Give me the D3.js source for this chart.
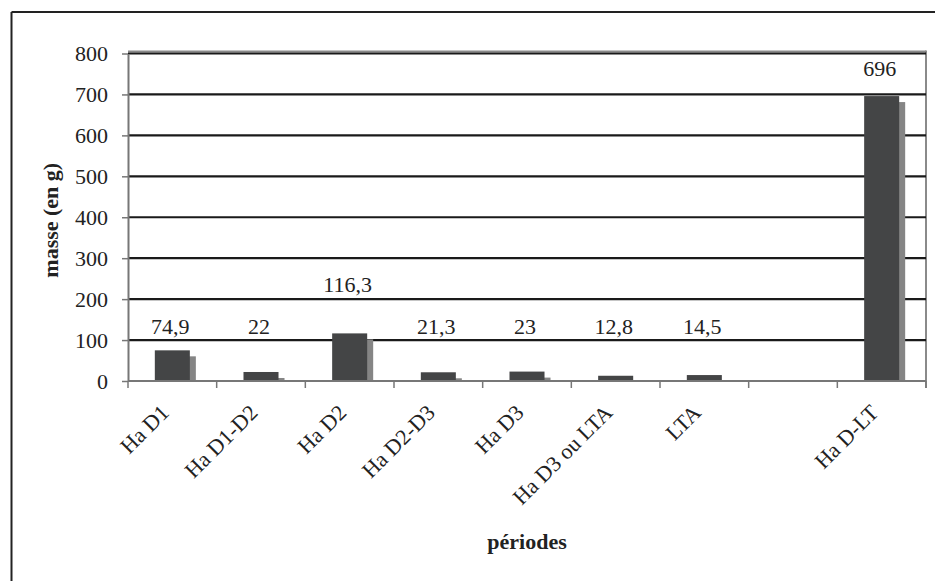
<!DOCTYPE html>
<html>
<head>
<meta charset="utf-8">
<script src="https://cdn.jsdelivr.net/npm/d3@7"></script>
<style>
  html, body { margin: 0; padding: 0; background: #fff; }
  svg { display: block; }
  text { font-family: "Liberation Serif", "Times New Roman", serif; fill: #222; }
</style>
</head>
<body>
<script>
const categories = ["Ha D1", "Ha D1-D2", "Ha D2", "Ha D2-D3", "Ha D3", "Ha D3 ou LTA", "LTA", "", "Ha D-LT"];
const masses = [74.9, 22, 116.3, 21.3, 23, 12.8, 14.5, null, 696];
const valueLabels = ["74,9", "22", "116,3", "21,3", "23", "12,8", "14,5", "", "696"];
const yTicks = [0, 100, 200, 300, 400, 500, 600, 700, 800];
const yTitle = "masse (en g)";
const xTitle = "périodes";

const W = 935, H = 581;
const plot = { left: 128, right: 926, top: 53.5, bottom: 381 };

const svg = d3.select("body").append("svg").attr("width", W).attr("height", H);

// outer frame (top and left edges visible)
svg.append("line").attr("x1", 11.5).attr("x2", W).attr("y1", 12).attr("y2", 12)
  .attr("stroke", "#222").attr("stroke-width", 2);
svg.append("line").attr("x1", 11.5).attr("x2", 11.5).attr("y1", 12).attr("y2", H)
  .attr("stroke", "#222").attr("stroke-width", 2);

const x = d3.scaleBand().domain(categories).range([plot.left, plot.right]).paddingInner(0).paddingOuter(0);
const y = d3.scaleLinear().domain([0, 800]).range([plot.bottom, plot.top]);

// plot-area border (top & right, grey)
svg.append("line").attr("x1", plot.left).attr("x2", plot.right).attr("y1", plot.top - 2).attr("y2", plot.top - 2)
  .attr("stroke", "#8a8a8a").attr("stroke-width", 2);
svg.append("line").attr("x1", plot.right).attr("x2", plot.right).attr("y1", plot.top - 3).attr("y2", plot.bottom + 7)
  .attr("stroke", "#8a8a8a").attr("stroke-width", 2);

// gridlines
svg.append("g").selectAll("line").data(yTicks.filter(d => d > 0)).join("line")
  .attr("x1", plot.left).attr("x2", plot.right)
  .attr("y1", d => y(d)).attr("y2", d => y(d))
  .attr("stroke", "#1a1a1a").attr("stroke-width", 2.2);

// y axis
const yAxis = svg.append("g").attr("transform", `translate(${plot.left},0)`)
  .call(d3.axisLeft(y).tickValues(yTicks).tickSize(6).tickSizeOuter(0).tickPadding(14));
yAxis.select(".domain").attr("stroke", "#777").attr("stroke-width", 2);
yAxis.selectAll(".tick line").attr("stroke", "#777").attr("stroke-width", 1.5);
yAxis.selectAll(".tick text").style("font-size", "22px").style("font-family", "Liberation Serif").attr("fill", "#222");

// bars: shadow then main
const bw = x.bandwidth() * 0.395;
const off = 6;
const barData = categories.map((c, i) => ({ c, v: masses[i], label: valueLabels[i] })).filter(d => d.v != null);

svg.append("g").selectAll("rect").data(barData).join("rect")
  .attr("x", d => x(d.c) + (x.bandwidth() - bw) / 2 + off)
  .attr("width", bw)
  .attr("y", d => Math.min(y(d.v) + off, plot.bottom))
  .attr("height", d => Math.max(0, plot.bottom - (y(d.v) + off)))
  .attr("fill", "#858585");

svg.append("g").selectAll("rect").data(barData).join("rect")
  .attr("x", d => x(d.c) + (x.bandwidth() - bw) / 2)
  .attr("width", bw)
  .attr("y", d => y(d.v))
  .attr("height", d => plot.bottom - y(d.v))
  .attr("fill", "#444546");

// x axis line and boundary ticks
svg.append("line").attr("x1", plot.left).attr("x2", plot.right).attr("y1", plot.bottom).attr("y2", plot.bottom)
  .attr("stroke", "#777").attr("stroke-width", 2);
const bounds = categories.map(c => x(c)).concat([plot.right]);
svg.append("g").selectAll("line").data(bounds).join("line")
  .attr("x1", d => d).attr("x2", d => d)
  .attr("y1", plot.bottom).attr("y2", plot.bottom + 7)
  .attr("stroke", "#777").attr("stroke-width", 1.5);

// category labels rotated
svg.append("g").selectAll("text").data(categories).join("text")
  .attr("transform", c => `translate(${x(c) + x.bandwidth() / 2 - 2},${plot.bottom + 33}) rotate(-45)`)
  .attr("text-anchor", "end")
  .style("font-size", "22px")
  .text(c => c);

// value labels
function labelLevel(v) {
  if (v < 100) return 115;
  if (v < 200) return v + 100;
  return v + 50;
}
svg.append("g").selectAll("text").data(barData).join("text")
  .attr("x", d => x(d.c) + x.bandwidth() / 2 - 2)
  .attr("y", d => y(labelLevel(d.v)))
  .attr("text-anchor", "middle")
  .style("font-size", "22px")
  .text(d => d.label);

// axis titles
svg.append("text")
  .attr("transform", `translate(58,${(plot.top + plot.bottom) / 2 + 3}) rotate(-90)`)
  .attr("text-anchor", "middle")
  .style("font-size", "22px").style("font-weight", "bold")
  .text(yTitle);

svg.append("text")
  .attr("x", (plot.left + plot.right) / 2).attr("y", 549)
  .attr("text-anchor", "middle")
  .style("font-size", "22px").style("font-weight", "bold")
  .text(xTitle);
</script>
</body>
</html>
